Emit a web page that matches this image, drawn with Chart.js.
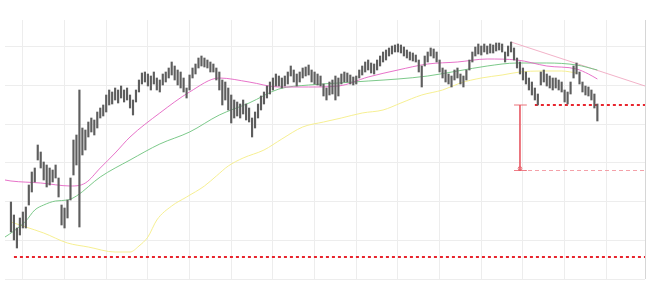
<!DOCTYPE html>
<html>
<head>
<meta charset="utf-8">
<script src="https://cdn.jsdelivr.net/npm/chart.js@4.4.1/dist/chart.umd.min.js"></script>
<style>html,body{margin:0;background:#fff;}</style>
</head>
<body>
<canvas id="grafico" width="660" height="293"></canvas>
<script>
// Barras de precio (máximo / mínimo por sesión, índice de sesión en el eje x)
const barHigh = [
  77,64,51,61,67,72,94,107,111,134,
  127,117,114,111,109,114,101,74,71,79,
  101,139,144,189,151,149,157,161,159,167,
  171,174,184,189,187,191,189,193,189,191,
  184,179,189,199,206,207,205,203,207,201,
  199,205,207,211,217,213,209,207,201,191,
  204,211,215,221,223,221,219,217,215,211,
  207,199,197,191,184,179,177,175,179,175,
  171,161,167,175,183,187,193,197,201,205,
  203,201,203,207,213,209,205,207,211,212,
  214,209,207,205,203,195,191,197,199,203,
  201,205,207,206,204,202,203,209,213,217,
  219,216,215,219,223,227,229,231,233,234,
  235,234,232,229,227,226,224,219,213,223,
  227,231,230,227,219,211,209,205,203,209,
  211,205,203,209,219,227,232,235,233,235,
  233,235,234,236,236,235,227,233,237,231,
  221,217,211,207,201,197,191,185,207,209,
  205,203,201,201,199,197,189,187,197,213,
  216,207,197,193,192,189,185,175
];
const barLow = [
  47,39,31,44,51,51,74,87,97,119,
  111,99,92,94,97,101,82,54,51,61,
  79,104,114,52,124,129,142,147,144,151,
  161,163,167,174,175,179,176,181,177,179,
  171,164,177,187,195,197,193,189,195,189,
  187,194,197,201,204,199,194,191,187,181,
  189,201,205,211,213,212,211,207,207,199,
  189,174,179,169,156,161,163,161,165,159,
  157,142,151,161,169,175,181,185,189,193,
  193,191,193,195,203,197,193,197,201,203,
  204,197,195,194,193,183,179,184,185,179,
  183,195,197,197,195,194,195,201,204,207,
  209,206,205,209,213,217,219,223,225,227,
  227,226,223,221,219,218,217,207,192,213,
  217,223,221,217,207,201,197,195,192,199,
  201,195,192,199,209,217,223,225,224,227,
  225,226,226,228,229,227,217,223,227,219,
  211,205,199,195,189,184,179,174,194,197,
  193,191,189,191,189,187,177,175,185,201,
  205,195,187,184,183,179,171,158
];

const mmRosaX = [-2,0,10,20,25,30,35,40,50,60,70,80,90,100,110,120,130,140,150,160,170,180,190,194,197];
const mmRosaY = [99,98,96,93,96,111,126,142,166,187,201,197,192,192,193,202,209,215,217,220,219,213,210,205,200];
const mmVerdeX = [-2,1,5,8,11,15,19,22,30,40,50,60,70,80,90,100,110,120,130,140,150,160,170,180,190,197];
const mmVerdeY = [42,48,58,69,74,78,79,83,102,119,135,147,164,176,190,194,196,198,200,203,208,213,216,216,214,209];
const mmAmarillaX = [0,5,11,19,26,35,40,43,46,49,54,59,65,69,73,78,85,91,98,105,111,118,125,131,138,145,151,158,165,171,178,185,190];
const mmAmarillaY = [57,52,46,36,32,27,27,33,42,59,73,82,93,103,113,121,129,140,152,157,161,166,169,176,184,189,196,201,204,207,208,208,206];

// Niveles y trazos
const soporte = 22;          // línea roja inferior
const resistencia = 174;     // línea roja superior
const objetivo = 108.5;      // proyección de la caída
const tendenciaX = [168, 213];
const tendenciaY = [237, 193];
const medidaX = 171;

// Rejilla
const ticksX = [4,18,32,46,60,74,88,102,116,130,144,158,172,186,200,213];
const pasoY = 38.7;

const pts = (xs, ys) => xs.map((x, i) => ({ x, y: ys[i] }));
const linea = (data, color, extra = {}) => Object.assign({
  type: 'line', data, borderColor: color, borderWidth: 1,
  pointRadius: 0, fill: false, tension: 0.4
}, extra);

const ctx = document.getElementById('grafico').getContext('2d');
new Chart(ctx, {
  data: {
    datasets: [
      {
        type: 'bar',
        data: barHigh.map((h, i) => ({ x: i, y: [barLow[i], h] })),
        backgroundColor: '#5e5e5e',
        barThickness: 1.5
      },
      linea(pts(mmRosaX, mmRosaY), 'rgba(228,100,195,0.9)', { cubicInterpolationMode: 'monotone' }),
      linea(pts(mmVerdeX, mmVerdeY), 'rgba(110,195,125,0.9)', { cubicInterpolationMode: 'monotone' }),
      linea(pts(mmAmarillaX, mmAmarillaY), 'rgba(245,238,140,0.95)', { cubicInterpolationMode: 'monotone' }),
      linea(pts(tendenciaX, tendenciaY), 'rgba(240,165,190,0.85)', { tension: 0 }),
      linea([{ x: 1, y: soporte }, { x: 213, y: soporte }], '#e8252e', { borderWidth: 2, borderDash: [3, 3], tension: 0 }),
      linea([{ x: 176, y: resistencia }, { x: 213, y: resistencia }], '#e8252e', { borderWidth: 2, borderDash: [3, 3], tension: 0 }),
      linea([{ x: 169, y: objetivo }, { x: 213, y: objetivo }], 'rgba(240,130,140,0.75)', { borderDash: [4, 3], tension: 0 }),
      linea([{ x: medidaX, y: resistencia }, { x: medidaX, y: objetivo }], 'rgba(232,90,100,0.85)', { tension: 0 }),
      linea([{ x: 169, y: resistencia }, { x: 173.3, y: resistencia }], 'rgba(232,90,100,0.85)', { tension: 0 }),
      linea([{ x: 169, y: objetivo }, { x: 173.3, y: objetivo }], 'rgba(232,90,100,0.85)', { tension: 0 }),
      linea([{ x: medidaX, y: objetivo + 2 }], 'rgba(232,90,100,0.85)', {
        showLine: false, pointRadius: 1.8, pointBackgroundColor: '#fff', pointBorderColor: 'rgba(232,90,100,0.85)'
      })
    ]
  },
  options: {
    responsive: false,
    animation: false,
    devicePixelRatio: 1,
    layout: { padding: { left: 0, right: 15, top: 20, bottom: 14 } },
    plugins: { legend: { display: false }, tooltip: { enabled: false } },
    scales: {
      x: {
        type: 'linear', min: -2, max: 213, offset: false,
        ticks: { display: false },
        grid: { offset: false, drawTicks: false, color: c => c.tick && c.tick.value === 213 ? '#d6d6d6' : '#ededed' },
        border: { display: false },
        afterBuildTicks: s => { s.ticks = ticksX.map(v => ({ value: v })); }
      },
      y: {
        min: 0, max: 259,
        ticks: { display: false },
        grid: { drawTicks: false, color: '#ededed' },
        border: { display: false },
        afterBuildTicks: s => { s.ticks = [0,1,2,3,4,5,6].map(k => ({ value: k * pasoY })); }
      }
    }
  }
});
</script>
</body>
</html>
